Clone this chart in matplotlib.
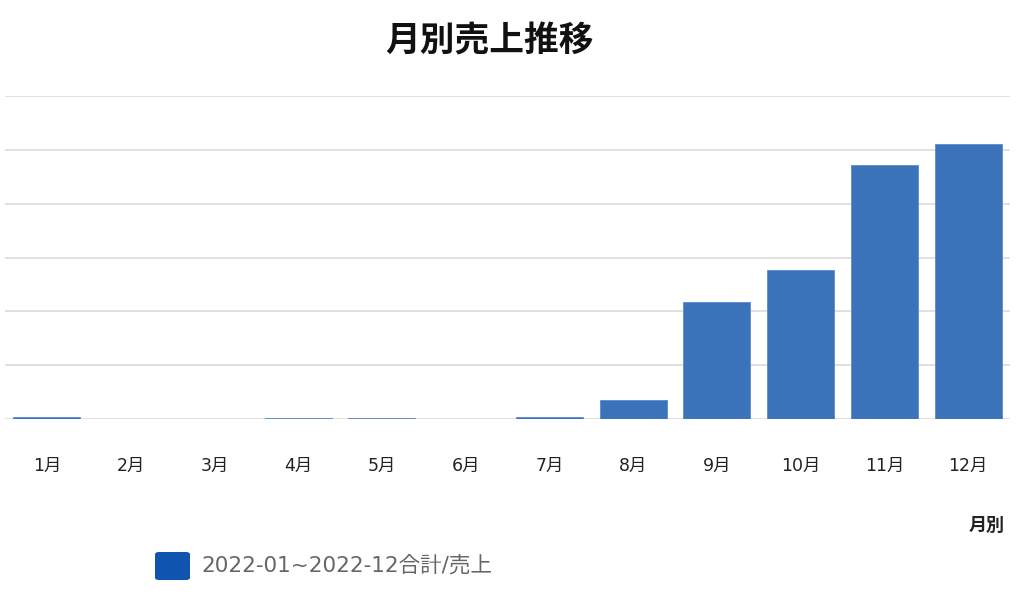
import matplotlib
matplotlib.use("Agg")
import matplotlib.pyplot as plt
from matplotlib.patches import FancyBboxPatch

plt.rcParams['font.family'] = ['DejaVu Sans', 'Noto Sans CJK JP']

months = ["1月", "2月", "3月", "4月", "5月", "6月", "7月", "8月", "9月", "10月", "11月", "12月"]
sales = [0.03, 0.0, 0.0, 0.01, 0.01, 0.005, 0.04, 0.35, 2.17, 2.76, 4.72, 5.11]
title = "月別売上推移"
xlabel = "月別"
legend_label = "2022-01~2022-12合計/売上"

fig = plt.figure(figsize=(10.24, 5.95), dpi=100)
ax = fig.add_axes([5/1024, 1 - 419/595, 1005/1024, (419 - 96)/595])

x = list(range(len(months)))
ax.bar(x, sales, width=0.8, color="#3B73BA", edgecolor="#5a8ad0", linewidth=0.6, zorder=3)
ax.set_xlim(-0.5, len(months) - 0.5)
ax.set_ylim(0, 6)
ax.set_yticks([0, 1, 2, 3, 4, 5, 6])
ax.set_yticklabels([])
ax.tick_params(axis='y', length=0)
ax.grid(axis='y', color="#dcdcdc", linewidth=1.2, zorder=0)
ax.set_xticks(x)
ax.set_xticklabels(months, fontsize=12.5, color="#222222")
ax.tick_params(axis='x', length=0, pad=27)
for s in ax.spines.values():
    s.set_visible(False)

fig.text(490/1024, 1 - 41/595, title, ha='center', va='center', fontsize=25,
         fontweight='bold', color="#111111", family=['Noto Sans CJK JP'])
fig.text(987/1024, 1 - 525/595, xlabel, ha='center', va='center', fontsize=13,
         fontweight='bold', color="#222222", family=['Noto Sans CJK JP'])

patch = FancyBboxPatch((155/1024, 1 - 580/595), 35/1024, 28/595,
                       boxstyle="round,pad=0,rounding_size=0.004", transform=fig.transFigure,
                       facecolor="#0F55B0", edgecolor="none")
fig.patches.append(patch)
fig.text(201/1024, 1 - 565/595, legend_label, ha='left', va='center', fontsize=15.5, color="#666666")

fig.savefig("out.png", dpi=100)
